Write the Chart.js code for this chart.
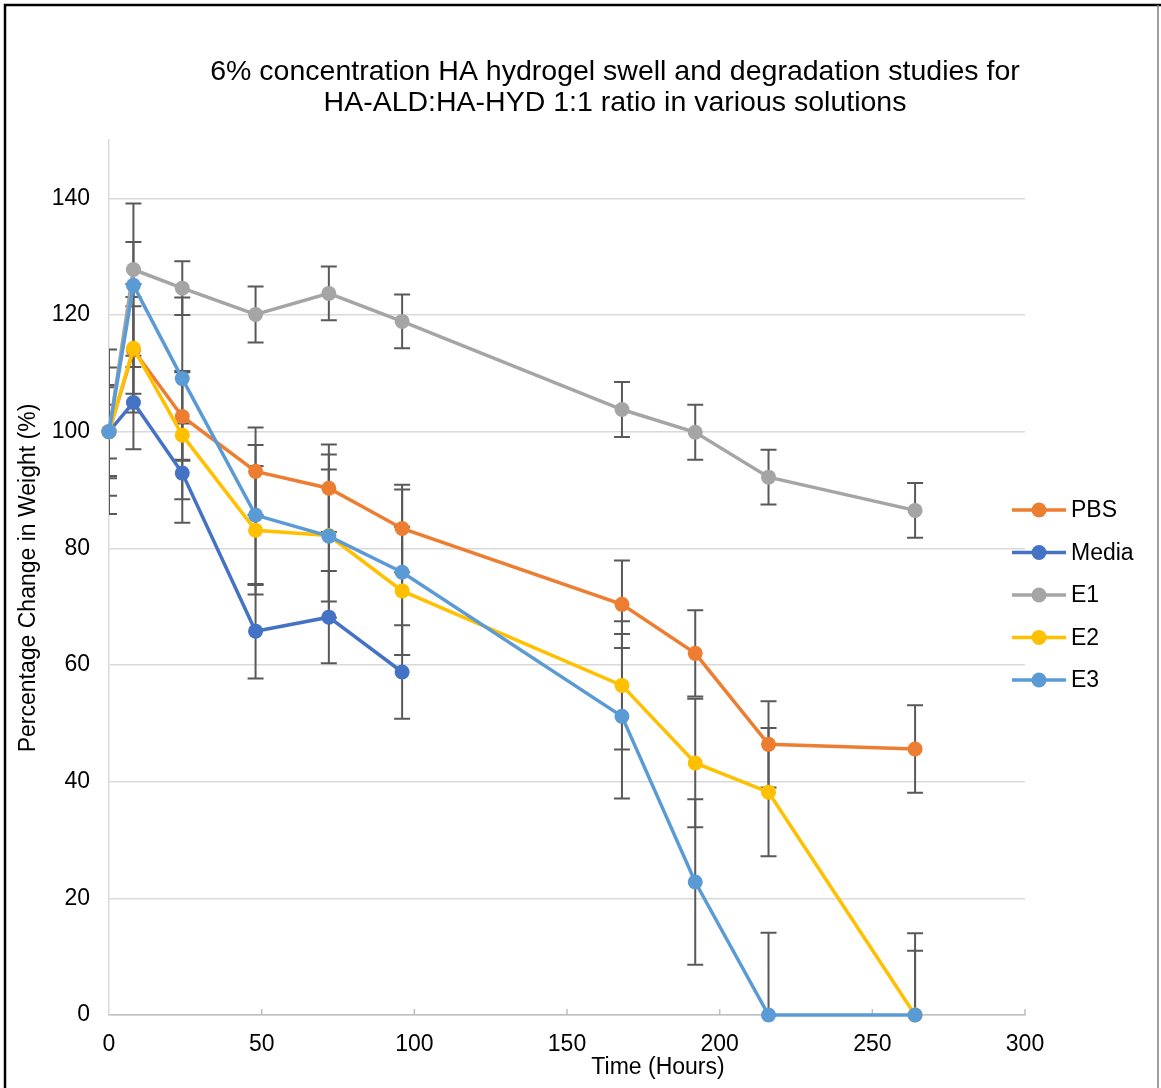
<!DOCTYPE html>
<html>
<head>
<meta charset="utf-8">
<script src="https://cdn.jsdelivr.net/npm/chart.js@4.4.1/dist/chart.umd.min.js"></script>
<style>
  html, body { margin: 0; padding: 0; background: #fff; }
  #wrap { width: 1161px; height: 1088px; position: relative; }
</style>
</head>
<body>
<div id="wrap"><canvas id="swellChart" width="1161" height="1088"></canvas></div>
<script>
// time points (hours)
const hours = [0, 8, 24, 48, 72, 96, 168, 192, 216, 264];
const mediaHours = [0, 8, 24, 48, 72, 96];

// percentage change in weight
const pbsValues   = [100, 114.0, 102.6, 93.2, 90.3, 83.4, 70.4, 62.0, 46.4, 45.6];
const mediaValues = [100, 105.0, 92.9, 65.8, 68.2, 58.8];
const e1Values    = [100, 127.8, 124.6, 120.1, 123.7, 118.9, 103.8, 99.9, 92.2, 86.5];
const e2Values    = [100, 114.3, 99.4, 83.1, 82.2, 72.7, 56.5, 43.2, 38.2, 0];
const e3Values    = [100, 125.1, 109.1, 85.7, 82.1, 75.9, 51.2, 22.8, 0, 0];

// error bar sizes (+/-)
const pbsErr   = [7.6, 7.5, 7.6, 7.5, 7.5, 7.5, 7.5, 7.4, 7.4, 7.5];
const mediaErr = [4.6, 8.0, 8.5, 8.1, 7.9, 8.0];
const e1Err    = [14.1, 4.7, 4.6, 4.8, 4.6, 4.6, 4.7, 4.7, 4.7, 4.7];
const e2Err    = [11.0, 11.0, 11.0, 11.0, 11.3, 11.0, 11.0, 11.0, 11.0, 11.0];
const e3Err    = [8.0, 14.0, 13.9, 12.0, 14.0, 14.2, 14.1, 14.2, 14.1, 14.0];

const seriesNames = ['PBS', 'Media', 'E1', 'E2', 'E3'];
const seriesColors = ['#ED7D31', '#4472C4', '#A5A5A5', '#FFC000', '#5B9BD5'];

const xTicks = [0, 50, 100, 150, 200, 250, 300];
const yTicks = [0, 20, 40, 60, 80, 100, 120, 140];

const FONT = '"Liberation Sans", Arial, sans-serif';

function toPoints(xs, ys) {
    return xs.map((x, i) => ({x: x, y: ys[i]}));
}

const allX = [hours, mediaHours, hours, hours, hours];
const allY = [pbsValues, mediaValues, e1Values, e2Values, e3Values];
const allErr = [pbsErr, mediaErr, e1Err, e2Err, e3Err];

const datasets = seriesNames.map((name, i) => ({
    label: name,
    data: toPoints(allX[i], allY[i]),
    errors: allErr[i],
    borderColor: seriesColors[i],
    backgroundColor: seriesColors[i],
    pointBackgroundColor: seriesColors[i],
    pointBorderColor: seriesColors[i],
    borderWidth: 3.5,
    pointRadius: 7.5,
    pointBorderWidth: 0,
    tension: 0,
    clip: false,
    order: seriesNames.length - i
}));

// error bars, titles, legend and frame drawn on the canvas
const extras = {
    id: 'extras',
    beforeDraw(chart) {
        const ctx = chart.ctx;
        ctx.save();
        ctx.fillStyle = '#fff';
        ctx.fillRect(0, 0, chart.width, chart.height);
        ctx.restore();
    },
    beforeDatasetsDraw(chart) {
        const ctx = chart.ctx;
        const area = chart.chartArea;
        const xs = chart.scales.x, ys = chart.scales.y;
        ctx.save();
        ctx.beginPath();
        ctx.rect(area.left, area.top - 2, area.right - area.left, area.bottom - area.top + 2);
        ctx.clip();
        ctx.strokeStyle = '#595959';
        ctx.lineWidth = 2;
        chart.data.datasets.forEach(ds => {
            ds.data.forEach((p, j) => {
                const e = ds.errors[j];
                const px = xs.getPixelForValue(p.x);
                const top = ys.getPixelForValue(p.y + e);
                const bot = ys.getPixelForValue(p.y - e);
                ctx.beginPath();
                ctx.moveTo(px, top); ctx.lineTo(px, bot);
                ctx.moveTo(px - 8, top); ctx.lineTo(px + 8, top);
                ctx.moveTo(px - 8, bot); ctx.lineTo(px + 8, bot);
                ctx.stroke();
            });
        });
        ctx.restore();

        // small x tick marks pointing into the plot
        ctx.save();
        ctx.strokeStyle = '#bfbfbf';
        ctx.lineWidth = 1.5;
        xTicks.slice(1).forEach(v => {
            const px = xs.getPixelForValue(v);
            ctx.beginPath();
            ctx.moveTo(px, area.bottom);
            ctx.lineTo(px, area.bottom - 6);
            ctx.stroke();
        });
        ctx.restore();
    },
    afterDraw(chart) {
        const ctx = chart.ctx;
        ctx.save();
        // frame
        ctx.strokeStyle = '#000';
        ctx.lineWidth = 2.5;
        ctx.beginPath();
        ctx.moveTo(5, chart.height); ctx.lineTo(5, 5); ctx.lineTo(chart.width, 5);
        ctx.stroke();
        ctx.strokeStyle = '#7f7f7f';
        ctx.lineWidth = 1.5;
        ctx.beginPath();
        ctx.moveTo(1158, 5); ctx.lineTo(1158, chart.height);
        ctx.stroke();

        // title
        ctx.fillStyle = '#000';
        ctx.font = '28.5px ' + FONT;
        ctx.textAlign = 'center';
        ctx.textBaseline = 'middle';
        ctx.fillText('6% concentration HA hydrogel swell and degradation studies for', 615, 72);
        ctx.fillText('HA-ALD:HA-HYD 1:1 ratio in various solutions', 615, 103);

        // axis titles
        ctx.font = '23px ' + FONT;
        ctx.fillText('Time (Hours)', 658, 1068);
        ctx.save();
        ctx.translate(29, 578);
        ctx.rotate(-Math.PI / 2);
        ctx.fillText('Percentage Change in Weight (%)', 0, 0);
        ctx.restore();

        // legend
        ctx.textAlign = 'left';
        chart.data.datasets.forEach((ds, i) => {
            const y = 510 + i * 42.5;
            ctx.strokeStyle = ds.borderColor;
            ctx.lineWidth = 3.5;
            ctx.beginPath();
            ctx.moveTo(1012, y); ctx.lineTo(1066, y);
            ctx.stroke();
            ctx.fillStyle = ds.borderColor;
            ctx.beginPath();
            ctx.arc(1039, y, 7.5, 0, Math.PI * 2);
            ctx.fill();
            ctx.fillStyle = '#000';
            ctx.fillText(ds.label, 1071, y + 1);
        });
        ctx.restore();
    }
};

new Chart(document.getElementById('swellChart'), {
    type: 'line',
    data: {datasets: datasets},
    plugins: [extras],
    options: {
        responsive: false,
        devicePixelRatio: 1,
        animation: false,
        layout: {padding: {top: 140, left: 0, right: 136, bottom: 0}},
        plugins: {
            legend: {display: false},
            title: {display: false},
            tooltip: {enabled: false}
        },
        scales: {
            x: {
                type: 'linear',
                min: 0,
                max: 300,
                afterFit(scale) { scale.height = 73; },
                afterBuildTicks(scale) { scale.ticks = xTicks.map(v => ({value: v})); },
                grid: {drawOnChartArea: false, drawTicks: false},
                border: {color: '#bfbfbf', width: 1.5},
                ticks: {
                    color: '#000',
                    padding: 16,
                    maxRotation: 0,
                    font: {family: FONT, size: 23}
                }
            },
            y: {
                min: 0,
                max: 150,
                afterFit(scale) { scale.width = 109; },
                afterBuildTicks(scale) { scale.ticks = yTicks.map(v => ({value: v})); },
                grid: {color: '#d9d9d9', lineWidth: 1.5, drawTicks: false},
                border: {color: '#d9d9d9', width: 1.5},
                ticks: {
                    color: '#000',
                    padding: 19,
                    font: {family: FONT, size: 23}
                }
            }
        }
    }
});
</script>
</body>
</html>
